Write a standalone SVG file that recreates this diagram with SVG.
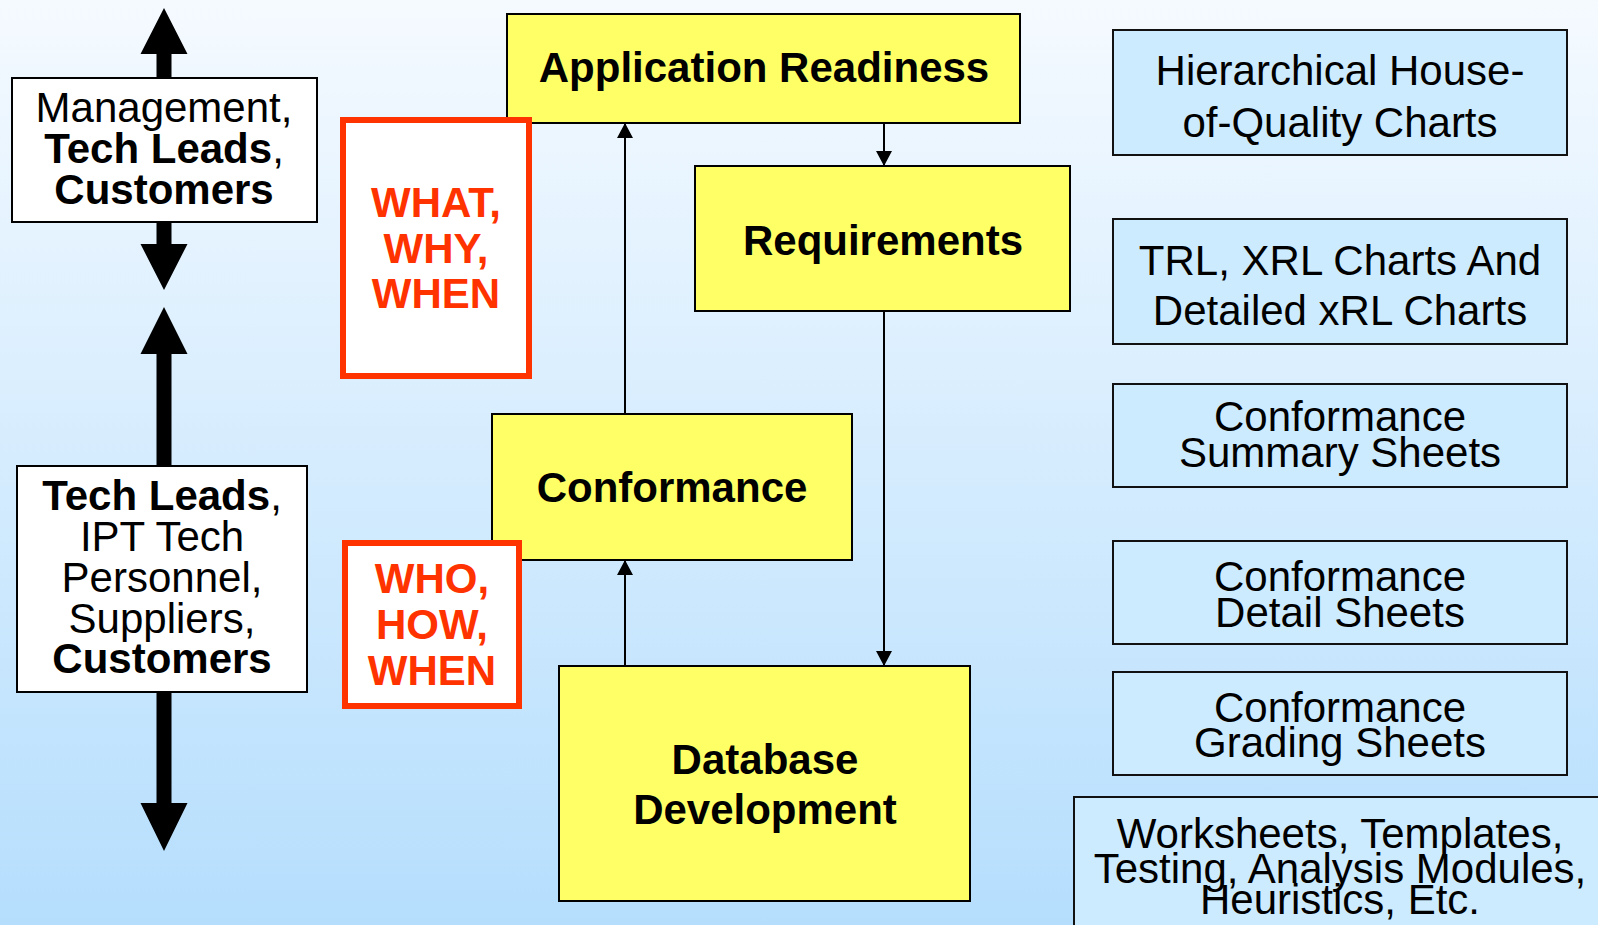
<svg xmlns="http://www.w3.org/2000/svg" width="1598" height="925" viewBox="0 0 1598 925">
  <defs>
    <linearGradient id="bg" x1="0" y1="0" x2="0" y2="1">
      <stop offset="0" stop-color="#f5faff"/>
      <stop offset="1" stop-color="#b5defd"/>
    </linearGradient>
    <marker id="arrow" markerUnits="userSpaceOnUse" markerWidth="16" markerHeight="16" refX="15" refY="8" orient="auto">
      <path d="M0,0 L15,8 L0,16 Z" fill="#000"/>
    </marker>
  </defs>
  <style>
    text { font-family: "Liberation Sans", Arial, sans-serif; font-size: 42px; text-anchor: middle; fill: #000; }
    .b { font-weight: bold; }
    .r { font-weight: normal; }
    .red { fill: #ff3300; font-weight: bold; }
    .who { fill: #fff; stroke: #000; stroke-width: 2; }
    .step { fill: #ffff66; stroke: #000; stroke-width: 2; }
    .ask { fill: #fff; stroke: #ff3300; stroke-width: 6; }
    .doc { fill: #cdebfe; stroke: #111; stroke-width: 2; }
    .link { fill: none; stroke: #000; stroke-width: 2; marker-end: url(#arrow); }
    .thick { fill: #000; }
  </style>

  <rect x="0" y="0" width="1598" height="925" fill="url(#bg)"/>

  <!-- connectors -->
  <g id="connectors">
    <line class="link" x1="884" y1="123" x2="884" y2="166"/>
    <line class="link" x1="625" y1="414" x2="625" y2="123"/>
    <line class="link" x1="884" y1="311" x2="884" y2="666"/>
    <line class="link" x1="625" y1="666" x2="625" y2="560"/>
    <!-- wide double-ended arrows along the stakeholder column -->
    <polygon class="thick" points="164,8 187.5,54 171.5,54 171.5,79 156.5,79 156.5,54 140.5,54"/>
    <polygon class="thick" points="156.5,221 171.5,221 171.5,244 187.5,244 164,290 140.5,244 156.5,244"/>
    <polygon class="thick" points="164,307 187.5,354 171.5,354 171.5,467 156.5,467 156.5,354 140.5,354"/>
    <polygon class="thick" points="156.5,691 171.5,691 171.5,803 187.5,803 164,851 140.5,803 156.5,803"/>
  </g>

  <!-- stakeholder boxes -->
  <g id="management">
    <rect class="who" x="12" y="78" width="305" height="144"/>
    <text x="164" y="122" class="r">Management,</text>
    <text x="164" y="163"><tspan class="b">Tech Leads</tspan><tspan class="r">,</tspan></text>
    <text x="164" y="204" class="b">Customers</text>
  </g>

  <g id="tech-leads">
    <rect class="who" x="17" y="466" width="290" height="226"/>
    <text x="162" y="510"><tspan class="b">Tech Leads</tspan><tspan class="r">,</tspan></text>
    <text x="162" y="551" class="r">IPT Tech</text>
    <text x="162" y="592" class="r">Personnel,</text>
    <text x="162" y="633" class="r">Suppliers,</text>
    <text x="162" y="673" class="b">Customers</text>
  </g>

  <!-- process steps -->
  <g id="application-readiness">
    <rect class="step" x="507" y="14" width="513" height="109"/>
    <text x="764" y="82" class="b">Application Readiness</text>
  </g>

  <g id="requirements">
    <rect class="step" x="695" y="166" width="375" height="145"/>
    <text x="883" y="255" class="b">Requirements</text>
  </g>

  <g id="conformance">
    <rect class="step" x="492" y="414" width="360" height="146"/>
    <text x="672" y="502" class="b">Conformance</text>
  </g>

  <g id="database-development">
    <rect class="step" x="559" y="666" width="411" height="235"/>
    <text x="765" y="774" class="b">Database</text>
    <text x="765" y="824" class="b">Development</text>
  </g>

  <!-- question callouts -->
  <g id="what-why-when">
    <rect class="ask" x="343" y="120" width="186" height="256"/>
    <text x="436" y="217" class="red">WHAT,</text>
    <text x="436" y="263" class="red">WHY,</text>
    <text x="436" y="308" class="red">WHEN</text>
  </g>

  <g id="who-how-when">
    <rect class="ask" x="345" y="543" width="174" height="163"/>
    <text x="432" y="593" class="red">WHO,</text>
    <text x="432" y="639" class="red">HOW,</text>
    <text x="432" y="685" class="red">WHEN</text>
  </g>

  <!-- artefacts -->
  <g id="house-of-quality">
    <rect class="doc" x="1113" y="30" width="454" height="125"/>
    <text x="1340" y="85">Hierarchical House-</text>
    <text x="1340" y="137">of-Quality Charts</text>
  </g>

  <g id="xrl-charts">
    <rect class="doc" x="1113" y="219" width="454" height="125"/>
    <text x="1340" y="275">TRL, XRL Charts And</text>
    <text x="1340" y="325">Detailed xRL Charts</text>
  </g>

  <g id="summary-sheets">
    <rect class="doc" x="1113" y="384" width="454" height="103"/>
    <text x="1340" y="431">Conformance</text>
    <text x="1340" y="467">Summary Sheets</text>
  </g>

  <g id="detail-sheets">
    <rect class="doc" x="1113" y="541" width="454" height="103"/>
    <text x="1340" y="591">Conformance</text>
    <text x="1340" y="627">Detail Sheets</text>
  </g>

  <g id="grading-sheets">
    <rect class="doc" x="1113" y="672" width="454" height="103"/>
    <text x="1340" y="722">Conformance</text>
    <text x="1340" y="757">Grading Sheets</text>
  </g>

  <g id="worksheets">
    <rect class="doc" x="1074" y="797" width="600" height="200"/>
    <text x="1340" y="848">Worksheets, Templates,</text>
    <text x="1340" y="883">Testing, Analysis Modules,</text>
    <text x="1340" y="914">Heuristics, Etc.</text>
  </g>
</svg>
